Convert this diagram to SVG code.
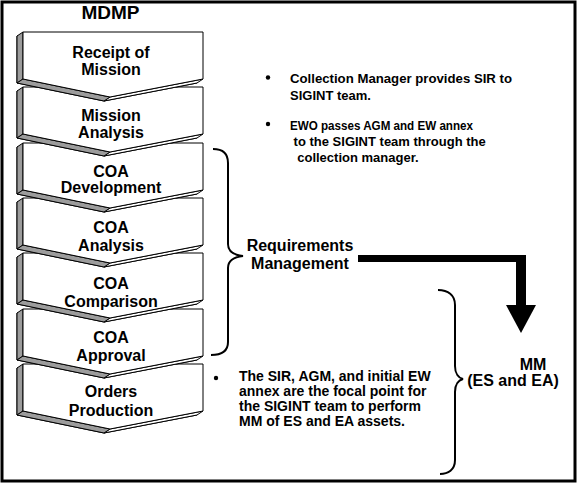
<svg xmlns="http://www.w3.org/2000/svg" xmlns:xlink="http://www.w3.org/1999/xlink" width="580" height="484" viewBox="0 0 580 484">
<style>
.t{font-family:"Liberation Sans",Arial,sans-serif;font-weight:bold;fill:#000}
.c{font-size:16px;text-anchor:middle}
.b{font-size:13px}
.b2{font-size:14px}
.face{fill:#fff;stroke:#000;stroke-width:1}
.side{fill:#9c9c9c;stroke:#000;stroke-width:1}
.brace{fill:none;stroke:#000;stroke-width:2}
</style>
<defs>
<g id="chev">
<polygon class="face" points="17,4 197,4 197,51 104,69 17,51"/>
<polygon class="face" points="110,65 203,47 197,51 104,69"/>
<polygon class="side" points="23,0 23,47 17,51 17,4"/>
<polygon class="side" points="23,47 110,65 104,69 17,51"/>
<polygon class="face" points="23,0 203,0 203,47 110,65 23,47"/>
</g>
</defs>
<rect x="2" y="2" width="573" height="479" fill="#fff" stroke="#000" stroke-width="3"/>
<text class="t" x="110.5" y="19" font-size="19" text-anchor="middle">MDMP</text>
<g id="node7"><use xlink:href="#chev" y="364"/><text class="t c" x="111" y="397">Orders</text><text class="t c" x="111" y="416">Production</text></g>
<g id="node6"><use xlink:href="#chev" y="309"/><text class="t c" x="111" y="343">COA</text><text class="t c" x="111" y="361">Approval</text></g>
<g id="node5"><use xlink:href="#chev" y="253"/><text class="t c" x="111" y="289">COA</text><text class="t c" x="111" y="307">Comparison</text></g>
<g id="node4"><use xlink:href="#chev" y="198"/><text class="t c" x="111" y="233">COA</text><text class="t c" x="111" y="251">Analysis</text></g>
<g id="node3"><use xlink:href="#chev" y="143"/><text class="t c" x="111" y="177">COA</text><text class="t c" x="111" y="193">Development</text></g>
<g id="node2"><use xlink:href="#chev" y="87"/><text class="t c" x="111" y="121">Mission</text><text class="t c" x="111" y="138">Analysis</text></g>
<g id="node1"><use xlink:href="#chev" y="32"/><text class="t c" x="111" y="58">Receipt of</text><text class="t c" x="111" y="75">Mission</text></g>
<g id="notes">
<circle cx="268" cy="77.5" r="2.2"/>
<text class="t b" x="290" y="83" textLength="222" lengthAdjust="spacingAndGlyphs">Collection Manager provides SIR to</text>
<text class="t b" x="290" y="100">SIGINT team.</text>
<circle cx="268" cy="124" r="2.2"/>
<text class="t b" x="290" y="130" textLength="183" lengthAdjust="spacingAndGlyphs">EWO passes AGM and EW annex</text>
<text class="t b" x="290" y="146" xml:space="preserve"> to the SIGINT team through the</text>
<text class="t b" x="290" y="162" xml:space="preserve">  collection manager.</text>
<circle cx="216" cy="378" r="2.2"/>
<text class="t b2" x="239" y="381">The SIR, AGM, and initial EW</text>
<text class="t b2" x="239" y="396">annex are the focal point for</text>
<text class="t b2" x="239" y="411">the SIGINT team to perform</text>
<text class="t b2" x="239" y="426">MM of ES and EA assets.</text>
</g>
<g id="reqmgmt">
<text class="t c" x="300" y="251">Requirements</text>
<text class="t c" x="300" y="269">Management</text>
</g>
<g id="mm">
<text class="t c" x="533" y="370">MM</text>
<text class="t c" x="513" y="386">(ES and EA)</text>
</g>
<g id="connectors">
<path class="brace" d="M213,149 C222,149 228,153 228,163 L228,244 C228,251 234,255 243,256 C234,257 228,261 228,268 L228,342 C228,351 222,355 211,355"/>
<path class="brace" d="M438,290 C448,290 455,295 455,305 L455,366 C455,374 459,378 463,379 C459,380 455,384 455,392 L455,460 C455,470 448,474 440,474"/>
<polygon points="358,255 526,255 526,306 516,306 516,262 358,262" fill="#000"/>
<polygon points="506,305 536,305 521,333" fill="#000"/>
</g>
</svg>
